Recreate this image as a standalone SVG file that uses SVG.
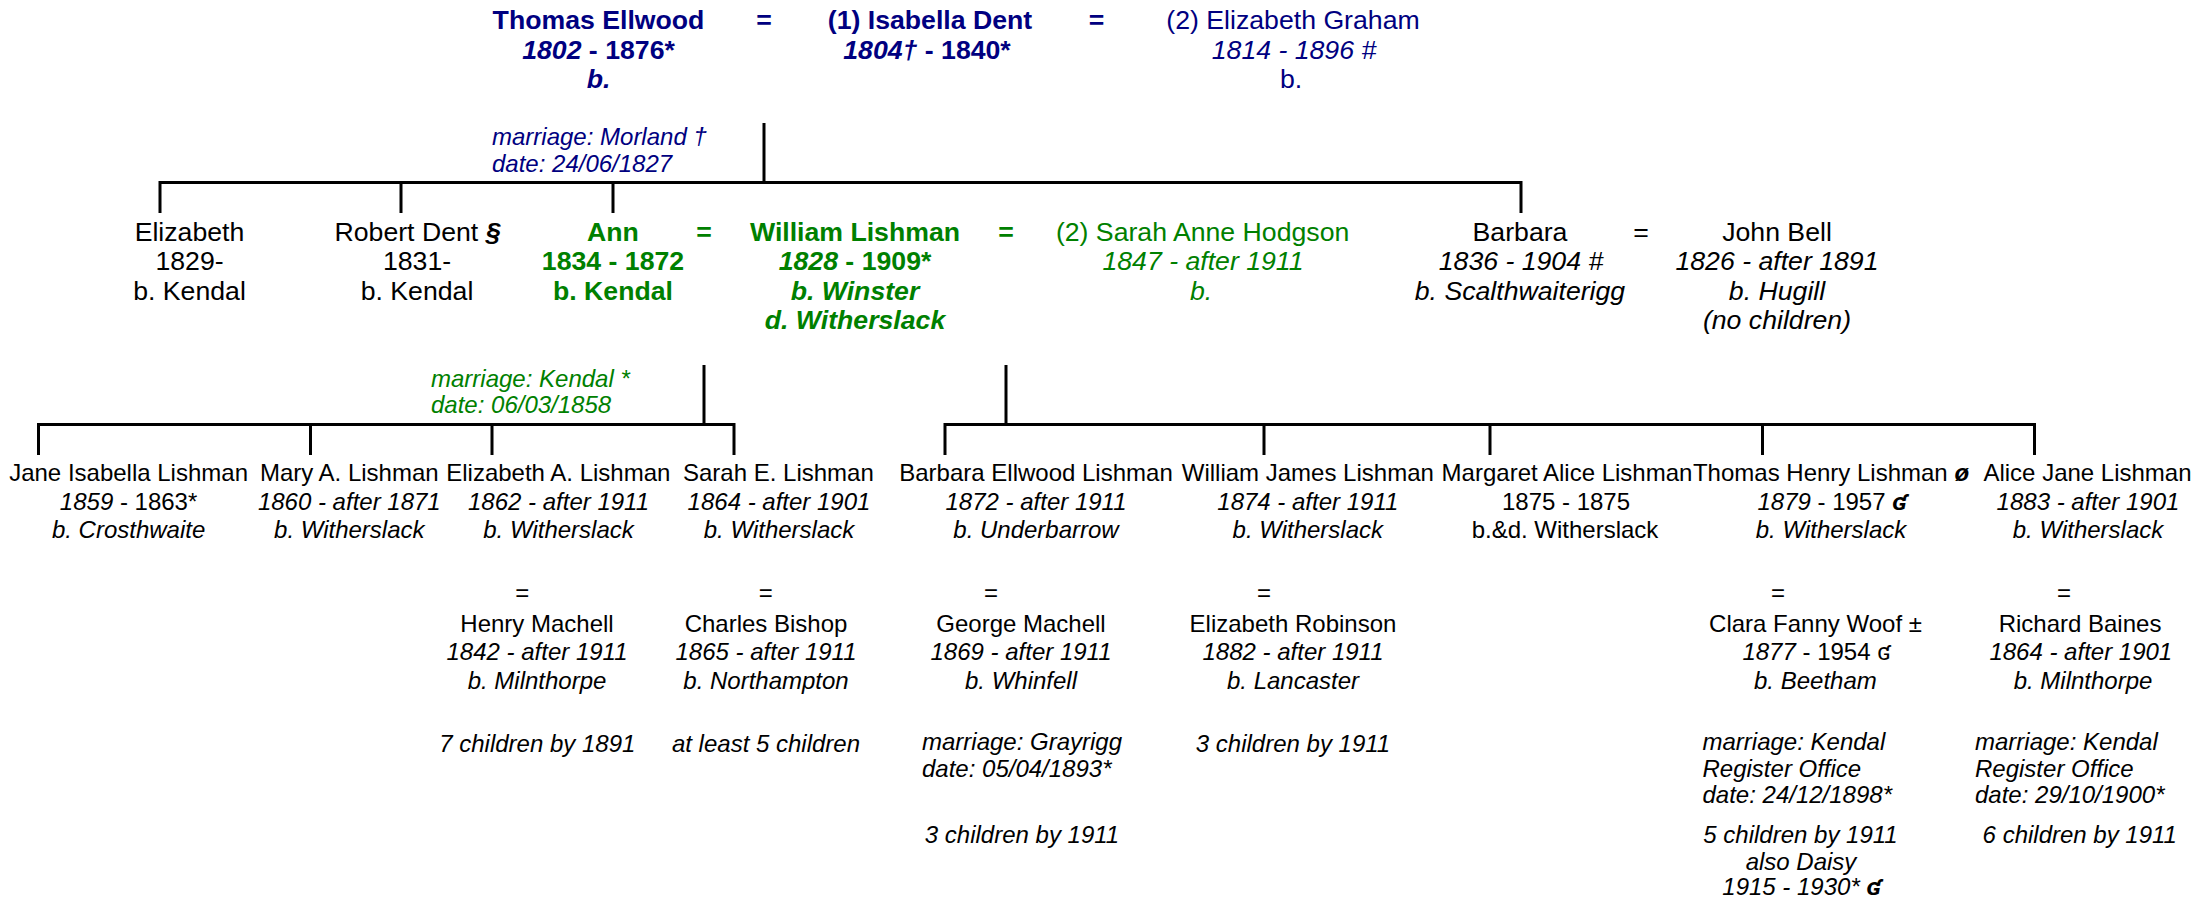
<svg xmlns="http://www.w3.org/2000/svg" width="2199" height="899" viewBox="0 0 2199 899">
<style>
text { font-family: "Liberation Sans", Arial, "DejaVu Sans", sans-serif; text-anchor: middle; fill: #000; }
.L { font-size: 26.67px; }
.S { font-size: 24px; }
.b { font-weight: bold; }
.i { font-style: italic; }
.bi { font-weight: bold; font-style: italic; }
.navy { fill: #000080; }
.green { fill: #008000; }
.note { text-anchor: start; font-style: italic; font-size: 24px; }
.ctr { text-anchor: middle; font-style: italic; font-size: 24px; }
.conn { stroke: #000; stroke-width: 3; fill: none; }
</style>
<rect x="0" y="0" width="2199" height="899" fill="#fff"/>

<g id="connectors">
  <path class="conn" d="M764 123 V182.5"/>
  <path class="conn" d="M160 213 V182.5 H1521 V213"/>
  <path class="conn" d="M401 182.5 V213 M613 182.5 V213"/>
  <path class="conn" d="M704 365 V424.5"/>
  <path class="conn" d="M38.5 455 V424.5 H734 V455"/>
  <path class="conn" d="M310.5 424.5 V455 M492 424.5 V455"/>
  <path class="conn" d="M1006 365 V424.5"/>
  <path class="conn" d="M945 455 V424.5 H2034.5 V455"/>
  <path class="conn" d="M1264 424.5 V455 M1490 424.5 V455 M1762.5 424.5 V455"/>
</g>

<g id="thomas-ellwood">
  <text class="L b navy" x="598.5" y="29">Thomas Ellwood</text>
  <text class="L b navy" x="598.5" y="58.5"><tspan class="bi">1802</tspan> - 1876*</text>
  <text class="L bi navy" x="598.5" y="88">b.</text>
</g>
<g id="eq-top-1"><text class="L b navy" x="764" y="29">=</text></g>
<g id="isabella-dent">
  <text class="L b navy" x="930" y="29">(1) Isabella Dent</text>
  <text class="L b navy" x="927" y="58.5"><tspan class="bi">1804†</tspan> - 1840*</text>
</g>
<g id="eq-top-2"><text class="L b navy" x="1096.5" y="29">=</text></g>
<g id="elizabeth-graham">
  <text class="L navy" x="1293" y="29">(2) Elizabeth Graham</text>
  <text class="L i navy" x="1294" y="58.5">1814 - 1896 #</text>
  <text class="L navy" x="1291" y="88">b.</text>
</g>
<g id="marriage-ellwood-dent">
  <text class="note navy" x="492" y="145">marriage: Morland †</text>
  <text class="note navy" x="492" y="171.5">date: 24/06/1827</text>
</g>

<g id="elizabeth">
  <text class="L" x="189.5" y="241">Elizabeth</text>
  <text class="L" x="189.5" y="270.3">1829-</text>
  <text class="L" x="189.5" y="299.6">b. Kendal</text>
</g>
<g id="robert-dent">
  <text class="L" x="417.5" y="241">Robert Dent <tspan class="bi">§</tspan></text>
  <text class="L" x="417" y="270.3">1831-</text>
  <text class="L" x="417" y="299.6">b. Kendal</text>
</g>
<g id="ann">
  <text class="L b green" x="613" y="241">Ann</text>
  <text class="L b green" x="613" y="270.3">1834 - 1872</text>
  <text class="L b green" x="613" y="299.6">b. Kendal</text>
</g>
<g id="eq-mid-1"><text class="L b green" x="704" y="241">=</text></g>
<g id="william-lishman">
  <text class="L b green" x="855" y="241">William Lishman</text>
  <text class="L b green" x="855" y="270.3"><tspan class="bi">1828</tspan> - 1909*</text>
  <text class="L bi green" x="855" y="299.6">b. Winster</text>
  <text class="L bi green" x="855" y="328.9">d. Witherslack</text>
</g>
<g id="eq-mid-2"><text class="L b green" x="1006" y="241">=</text></g>
<g id="sarah-anne-hodgson">
  <text class="L green" x="1202.6" y="241">(2) Sarah Anne Hodgson</text>
  <text class="L i green" x="1203" y="270.3">1847 - after 1911</text>
  <text class="L i green" x="1201" y="299.6">b.</text>
</g>
<g id="barbara">
  <text class="L" x="1520" y="241">Barbara</text>
  <text class="L i" x="1521" y="270.3">1836 - 1904 #</text>
  <text class="L i" x="1520" y="299.6">b. Scalthwaiterigg</text>
</g>
<g id="eq-mid-3"><text class="L" x="1641" y="241">=</text></g>
<g id="john-bell">
  <text class="L" x="1777" y="241">John Bell</text>
  <text class="L i" x="1777" y="270.3">1826 - after 1891</text>
  <text class="L i" x="1777" y="299.6">b. Hugill</text>
  <text class="L i" x="1777" y="328.9">(no children)</text>
</g>
<g id="marriage-ann-william">
  <text class="note green" x="431" y="386.7">marriage: Kendal *</text>
  <text class="note green" x="431" y="413.3">date: 06/03/1858</text>
</g>

<g id="jane-isabella-lishman">
  <text class="S" x="128.6" y="481">Jane Isabella Lishman</text>
  <text class="S" x="128.6" y="509.5"><tspan class="i">1859</tspan> - 1863*</text>
  <text class="S i" x="128.6" y="538">b. Crosthwaite</text>
</g>
<g id="mary-a-lishman">
  <text class="S" x="349.3" y="481">Mary A. Lishman</text>
  <text class="S i" x="349.3" y="509.5">1860 - after 1871</text>
  <text class="S i" x="349.3" y="538">b. Witherslack</text>
</g>
<g id="elizabeth-a-lishman">
  <text class="S" x="558.3" y="481">Elizabeth A. Lishman</text>
  <text class="S i" x="558.5" y="509.5">1862 - after 1911</text>
  <text class="S i" x="558.5" y="538">b. Witherslack</text>
</g>
<g id="eq-henry"><text class="S" x="522.3" y="601">=</text></g>
<g id="henry-machell">
  <text class="S" x="537" y="631.7">Henry Machell</text>
  <text class="S i" x="537" y="660.3">1842 - after 1911</text>
  <text class="S i" x="537" y="689">b. Milnthorpe</text>
  <text class="ctr" x="537.3" y="751.5">7 children by 1891</text>
</g>
<g id="sarah-e-lishman">
  <text class="S" x="778.4" y="481">Sarah E. Lishman</text>
  <text class="S i" x="779" y="509.5">1864 - after 1901</text>
  <text class="S i" x="779" y="538">b. Witherslack</text>
</g>
<g id="eq-charles"><text class="S" x="765.7" y="601">=</text></g>
<g id="charles-bishop">
  <text class="S" x="766" y="631.7">Charles Bishop</text>
  <text class="S i" x="766" y="660.3">1865 - after 1911</text>
  <text class="S i" x="766" y="689">b. Northampton</text>
  <text class="ctr" x="766" y="751.5">at least 5 children</text>
</g>
<g id="barbara-ellwood-lishman">
  <text class="S" x="1036" y="481">Barbara Ellwood Lishman</text>
  <text class="S i" x="1036" y="509.5">1872 - after 1911</text>
  <text class="S i" x="1036" y="538">b. Underbarrow</text>
</g>
<g id="eq-george"><text class="S" x="991" y="601">=</text></g>
<g id="george-machell">
  <text class="S" x="1021" y="631.7">George Machell</text>
  <text class="S i" x="1021" y="660.3">1869 - after 1911</text>
  <text class="S i" x="1021" y="689">b. Whinfell</text>
  <text class="note" x="922" y="750">marriage: Grayrigg</text>
  <text class="note" x="922" y="776.5">date: 05/04/1893*</text>
  <text class="ctr" x="1022" y="843">3 children by 1911</text>
</g>
<g id="william-james-lishman">
  <text class="S" x="1307.8" y="481">William James Lishman</text>
  <text class="S i" x="1307.8" y="509.5">1874 - after 1911</text>
  <text class="S i" x="1307.8" y="538">b. Witherslack</text>
</g>
<g id="eq-elizabeth-r"><text class="S" x="1264" y="601">=</text></g>
<g id="elizabeth-robinson">
  <text class="S" x="1293" y="631.7">Elizabeth Robinson</text>
  <text class="S i" x="1293" y="660.3">1882 - after 1911</text>
  <text class="S i" x="1293" y="689">b. Lancaster</text>
  <text class="ctr" x="1293" y="751.5">3 children by 1911</text>
</g>
<g id="margaret-alice-lishman">
  <text class="S" x="1567" y="481">Margaret Alice Lishman</text>
  <text class="S" x="1566" y="509.5">1875 - 1875</text>
  <text class="S" x="1565" y="538">b.&amp;d. Witherslack</text>
</g>
<g id="thomas-henry-lishman">
  <text class="S" x="1831" y="481">Thomas Henry Lishman <tspan class="bi">ø</tspan></text>
  <text class="S" x="1832" y="509.5"><tspan class="i">1879</tspan> - 1957 <tspan class="bi">ʛ</tspan></text>
  <text class="S i" x="1831" y="538">b. Witherslack</text>
</g>
<g id="eq-clara"><text class="S" x="1778" y="601">=</text></g>
<g id="clara-fanny-woof">
  <text class="S" x="1815.5" y="631.7">Clara Fanny Woof ±</text>
  <text class="S" x="1816.5" y="660.3"><tspan class="i">1877</tspan> - 1954 ʛ</text>
  <text class="S i" x="1815.4" y="689">b. Beetham</text>
  <text class="note" x="1702.5" y="749.5">marriage: Kendal</text>
  <text class="note" x="1702.5" y="776.5">Register Office</text>
  <text class="note" x="1702.5" y="803">date: 24/12/1898*</text>
  <text class="ctr" x="1800.5" y="843.3">5 children by 1911</text>
  <text class="ctr" x="1801" y="869.5">also Daisy</text>
  <text class="ctr" x="1801.5" y="895">1915 - 1930* <tspan class="bi">ʛ</tspan></text>
</g>
<g id="alice-jane-lishman">
  <text class="S" x="2087.5" y="481">Alice Jane Lishman</text>
  <text class="S i" x="2088" y="509.5">1883 - after 1901</text>
  <text class="S i" x="2088" y="538">b. Witherslack</text>
</g>
<g id="eq-richard"><text class="S" x="2064" y="601">=</text></g>
<g id="richard-baines">
  <text class="S" x="2080" y="631.7">Richard Baines</text>
  <text class="S i" x="2080.8" y="660.3">1864 - after 1901</text>
  <text class="S i" x="2083" y="689">b. Milnthorpe</text>
  <text class="note" x="1975" y="749.5">marriage: Kendal</text>
  <text class="note" x="1975" y="776.5">Register Office</text>
  <text class="note" x="1975" y="803">date: 29/10/1900*</text>
  <text class="ctr" x="2079.8" y="843.3">6 children by 1911</text>
</g>
</svg>
